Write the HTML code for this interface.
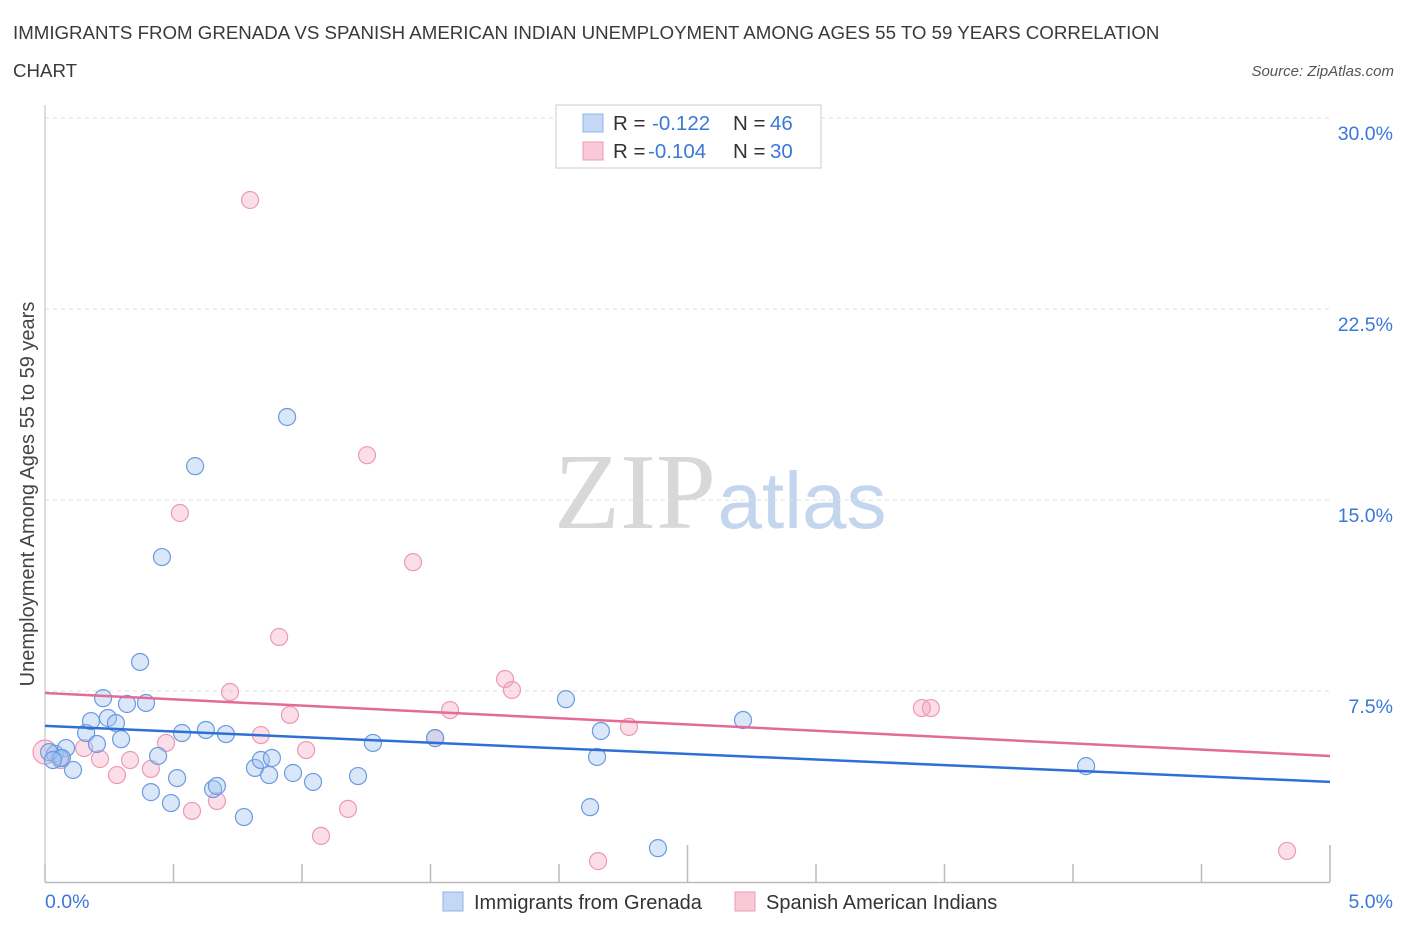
<!DOCTYPE html>
<html><head><meta charset="utf-8">
<style>
body{margin:0;background:#fff;font-family:"Liberation Sans",sans-serif;}
svg{display:block}
</style></head>
<body>
<svg id="chart" width="1406" height="930" xmlns="http://www.w3.org/2000/svg">
<text x="13" y="39" font-size="18.7" fill="#3a3a3a">IMMIGRANTS FROM GRENADA VS SPANISH AMERICAN INDIAN UNEMPLOYMENT AMONG AGES 55 TO 59 YEARS CORRELATION</text>
<text x="13" y="77" font-size="18.7" fill="#3a3a3a">CHART</text>
<text x="1394" y="76" font-size="15" font-style="italic" fill="#555" text-anchor="end">Source: ZipAtlas.com</text>
<g>
<text x="635" y="528" font-size="108" font-family="Liberation Serif,serif" fill="#d8d8d8" text-anchor="middle">ZIP</text>
<text x="802" y="528" font-size="80" fill="#c4d6ee" text-anchor="middle">atlas</text>
</g>
<g id="grid"></g>
<g id="axes"></g>
<g id="marks"></g>
<text transform="translate(34,494) rotate(-90)" font-size="20" fill="#444" text-anchor="middle">Unemployment Among Ages 55 to 59 years</text>
<g>
<rect x="556" y="105" width="265" height="63" fill="#fff" stroke="#ccc"/>
<rect x="583" y="114" width="20" height="18" fill="#c4d8f5" stroke="#8fb3e8"/>
<text x="613" y="130" font-size="20.5" fill="#333">R = </text><text x="652" y="130" font-size="20.5" fill="#3b78d8">-0.122</text>
<text x="733" y="130" font-size="20.5" fill="#333">N = </text><text x="770" y="130" font-size="20.5" fill="#3b78d8">46</text>
<rect x="583" y="142" width="20" height="18" fill="#f9c9d8" stroke="#eb9ab6"/>
<text x="613" y="158" font-size="20.5" fill="#333">R = </text><text x="648" y="158" font-size="20.5" fill="#3b78d8">-0.104</text>
<text x="733" y="158" font-size="20.5" fill="#333">N = </text><text x="770" y="158" font-size="20.5" fill="#3b78d8">30</text>
</g>
<g>
<rect x="443" y="892" width="20" height="19" fill="#c4d8f5" stroke="#8fb3e8"/>
<text x="474" y="909" font-size="20" fill="#333">Immigrants from Grenada</text>
<rect x="735" y="892" width="20" height="19" fill="#f9c9d8" stroke="#eb9ab6"/>
<text x="766" y="909" font-size="20" fill="#333">Spanish American Indians</text>
</g>
</svg>
<script>
const yTicks=[7.5,15,22.5,30];
const yTickLabels=["7.5%","15.0%","22.5%","30.0%"];
const xTicks=[0,0.5,1,1.5,2,2.5,3,3.5,4,4.5,5];
const blueX=[0.039,0.082,0.058,0.109,0.160,0.179,0.202,0.226,0.245,0.276,0.296,0.319,0.370,0.393,0.412,0.440,0.455,0.490,0.514,0.533,0.584,0.626,0.654,0.669,0.704,0.774,0.817,0.840,0.872,0.883,0.942,0.965,1.043,1.218,1.276,1.518,2.027,2.121,2.148,2.163,2.385,2.716,4.051,0.016,0.066,0.031];
const blueY=[5.03,5.26,4.87,4.40,5.85,6.32,5.42,7.22,6.44,6.24,5.61,6.99,8.64,7.03,3.53,4.95,12.76,3.10,4.08,5.85,16.33,5.97,3.65,3.77,5.81,2.55,4.48,4.79,4.20,4.87,18.26,4.28,3.93,4.16,5.46,5.65,7.18,2.94,4.91,5.93,1.33,6.36,4.55,5.10,4.87,4.79];
const pinkX=[0.798,0.525,1.253,1.432,0.911,0.720,0.953,0.840,1.016,0.471,0.412,0.331,0.280,0.214,0.152,0.062,0.0,0.572,0.669,1.074,1.179,1.518,1.576,1.790,1.817,2.272,2.152,3.412,3.447,4.833];
const pinkY=[26.78,14.49,16.76,12.56,9.62,7.46,6.56,5.77,5.18,5.46,4.44,4.79,4.20,4.83,5.26,4.79,5.10,2.79,3.18,1.81,2.87,5.65,6.75,7.97,7.54,6.09,0.82,6.83,6.83,1.22];
const blueTrend=[6.13,3.93];
const pinkTrend=[7.42,4.95];
const NS="http://www.w3.org/2000/svg";
const X=v=>45+v/5*1285;
const Y=v=>882-v/30*764;
function mk(tag,attrs,parent){const e=document.createElementNS(NS,tag);for(const k in attrs)e.setAttribute(k,attrs[k]);document.getElementById(parent).appendChild(e);return e;}
yTicks.forEach((t,i)=>{
  const l=mk('line',{x1:45,x2:1330,y1:Y(t),y2:Y(t),stroke:'#ddd','stroke-dasharray':'4,4'},'grid');
  
  
  const tx=mk('text',{x:1393,y:Y(t)+22,'font-size':19.5,fill:'#3b78d8','text-anchor':'end'},'grid');
  tx.textContent=yTickLabels[i];
  
  
});
let ax=mk('line',{x1:45,x2:45,y1:105,y2:882,stroke:'#bbb'},'axes');


ax=mk('line',{x1:45,x2:1330,y1:882.5,y2:882.5,stroke:'#bbb','stroke-width':1.5},'axes');


xTicks.forEach(t=>{
  const major=(t===2.5||t===5);
  const l=mk('line',{x1:X(t),x2:X(t),y1:major?845:864,y2:882,stroke:'#bbb','stroke-width':1.5},'axes');
  
  
});
let t0=mk('text',{x:45,y:908,'font-size':19.5,fill:'#3b78d8'},'axes');t0.textContent='0.0%';


let t1=mk('text',{x:1393,y:908,'font-size':19.5,fill:'#3b78d8','text-anchor':'end'},'axes');t1.textContent='5.0%';


pinkX.forEach((v,i)=>{
  const r=(v===0)?12:8.5;
  const c=mk('circle',{cx:X(v),cy:Y(pinkY[i]),r:r,fill:'rgba(244,160,190,0.35)',stroke:'#eb9ab6','stroke-width':1.2},'marks');
  
  
});
blueX.forEach((v,i)=>{
  const c=mk('circle',{cx:X(v),cy:Y(blueY[i]),r:8.5,fill:'rgba(160,195,240,0.4)',stroke:'#6a9be0','stroke-width':1.2},'marks');
  
  
});
let bl=mk('line',{x1:X(0),y1:Y(blueTrend[0]),x2:X(5),y2:Y(blueTrend[1]),stroke:'#2f6fd6','stroke-width':2.5},'marks');


let pl=mk('line',{x1:X(0),y1:Y(pinkTrend[0]),x2:X(5),y2:Y(pinkTrend[1]),stroke:'#e36b95','stroke-width':2.5},'marks');


</script>
</body></html>
